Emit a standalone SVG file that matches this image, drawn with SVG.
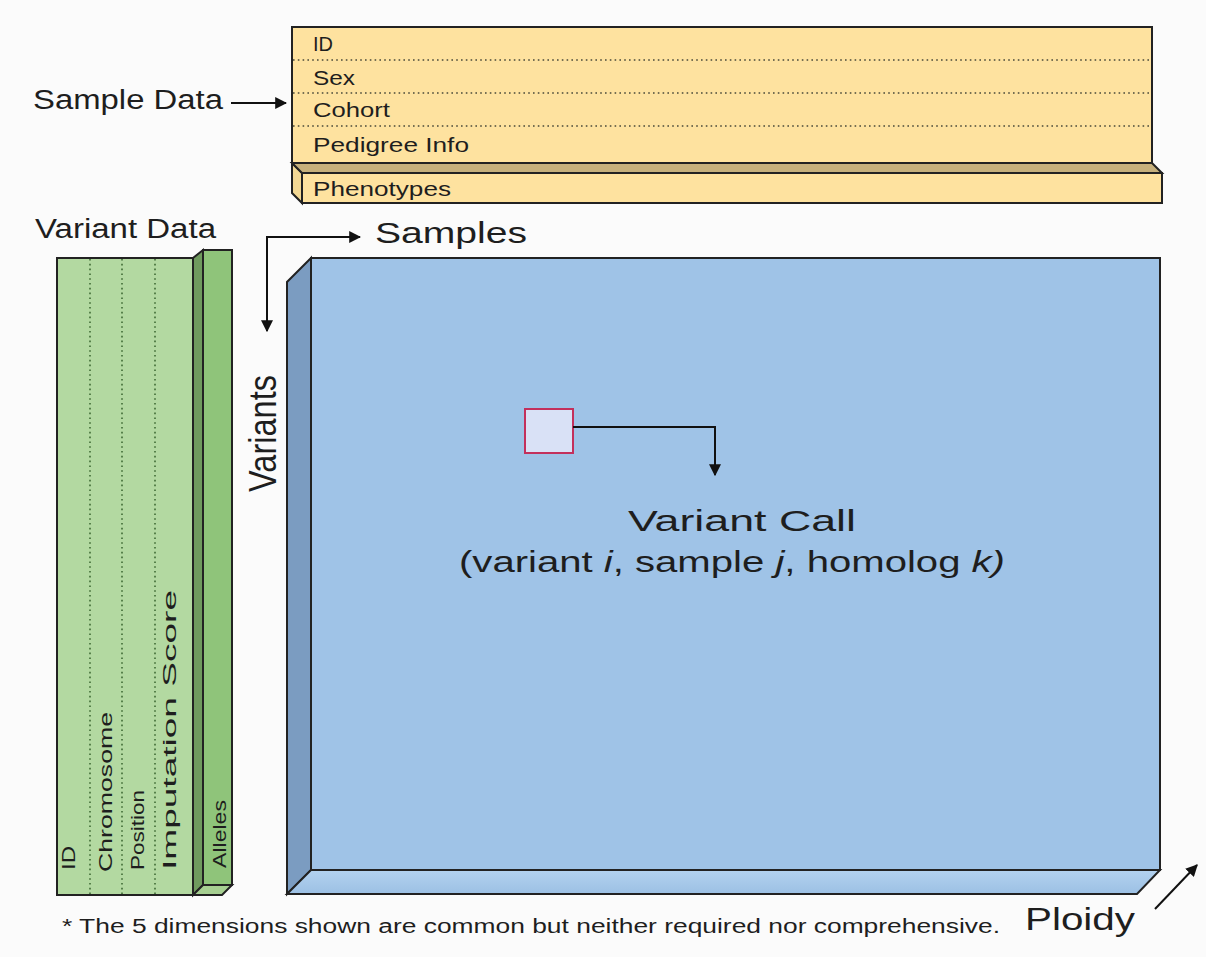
<svg xmlns="http://www.w3.org/2000/svg" width="1206" height="957" viewBox="0 0 1206 957">
  <style>
    .txt { font-family: "Liberation Sans", Arial, sans-serif; fill: #1e1e1e; }
    .edge { stroke: #222; stroke-width: 2; stroke-linejoin: miter; }
    .dots { stroke: #4a4a3a; stroke-width: 1.6; stroke-dasharray: 1.6 3.2; fill: none; }
    .gdots { stroke: #3f6a35; stroke-width: 1.6; stroke-dasharray: 1.6 3.2; fill: none; }
    .conn { stroke: #111; stroke-width: 2; fill: none; }
    .yellow { fill: #fee29f; }
    .green { fill: #b3d9a1; }
    .green-dark { fill: #8fc47a; }
    .blue { fill: #9fc3e7; }
  </style>
  <defs>
    <marker id="arrow" viewBox="0 0 10 10" refX="9" refY="5" markerWidth="6" markerHeight="6" markerUnits="strokeWidth" orient="auto">
      <path d="M0,0 L10,5 L0,10 Z" fill="#111"/>
    </marker>
    <linearGradient id="blueBottom" x1="0" y1="0" x2="0" y2="1">
      <stop offset="0" stop-color="#b3d2f0"/>
      <stop offset="1" stop-color="#9cc0e4"/>
    </linearGradient>
  </defs>

  <rect width="1206" height="957" fill="#fbfbfb"/>

  <!-- Sample data slab -->
  <g id="sample-data">
    <polygon points="292,163 302,173 302,203 292,193" fill="#f3d894" class="edge"/>
    <polygon points="292,163 1152,163 1162,173 302,173" fill="#c6b07c" class="edge"/>
    <rect x="302" y="173" width="860" height="30" class="yellow edge"/>
    <rect x="292" y="27" width="860" height="136" class="yellow edge"/>
    <line x1="293" y1="60" x2="1151" y2="60" class="dots"/>
    <line x1="293" y1="93" x2="1151" y2="93" class="dots"/>
    <line x1="293" y1="126" x2="1151" y2="126" class="dots"/>
    <text x="313" y="51" class="txt" font-size="21" textLength="20" lengthAdjust="spacingAndGlyphs">ID</text>
    <text x="313" y="85" class="txt" font-size="21" textLength="42" lengthAdjust="spacingAndGlyphs">Sex</text>
    <text x="313" y="117" class="txt" font-size="21" textLength="77" lengthAdjust="spacingAndGlyphs">Cohort</text>
    <text x="313" y="152" class="txt" font-size="21" textLength="156" lengthAdjust="spacingAndGlyphs">Pedigree Info</text>
    <text x="313" y="196" class="txt" font-size="21" textLength="138" lengthAdjust="spacingAndGlyphs">Phenotypes</text>
  </g>

  <!-- Variant data slab -->
  <g id="variant-data">
    <polygon points="193,258 203,250 203,885 193,895" fill="#6f9a5e" class="edge"/>
    <polygon points="193,895 203,885 232,885 222,895" fill="#a6cf91" class="edge"/>
    <rect x="203" y="250" width="29" height="635" class="green-dark edge"/>
    <rect x="57" y="258" width="136" height="637" class="green edge"/>
    <line x1="90" y1="259" x2="90" y2="894" class="gdots"/>
    <line x1="122" y1="259" x2="122" y2="894" class="gdots"/>
    <line x1="155" y1="259" x2="155" y2="894" class="gdots"/>
    <text transform="translate(75,870) rotate(-90)" class="txt" font-size="19" textLength="24" lengthAdjust="spacingAndGlyphs">ID</text>
    <text transform="translate(112,872) rotate(-90)" class="txt" font-size="19" textLength="160" lengthAdjust="spacingAndGlyphs">Chromosome</text>
    <text transform="translate(144,870) rotate(-90)" class="txt" font-size="19" textLength="80" lengthAdjust="spacingAndGlyphs">Position</text>
    <text transform="translate(176,870) rotate(-90)" class="txt" font-size="19" textLength="280" lengthAdjust="spacingAndGlyphs">Imputation Score</text>
    <text transform="translate(226,868) rotate(-90)" class="txt" font-size="18" textLength="68" lengthAdjust="spacingAndGlyphs">Alleles</text>
  </g>

  <!-- Variant call matrix -->
  <g id="variant-matrix">
    <polygon points="311,258 287,282 287,894 311,870" fill="#7b9cc1" class="edge"/>
    <polygon points="311,870 1160,870 1137,894 287,894" fill="url(#blueBottom)" class="edge"/>
    <rect x="311" y="258" width="849" height="612" class="blue edge"/>
  </g>

  <!-- Single call cell -->
  <g id="variant-call">
    <rect x="525" y="409" width="48" height="44" fill="#d9e1f6" stroke="#c3305c" stroke-width="2"/>
    <text x="742" y="531" class="txt" font-size="29" text-anchor="middle" textLength="228" lengthAdjust="spacingAndGlyphs">Variant Call</text>
    <text x="459" y="572" class="txt" font-size="29" textLength="546" lengthAdjust="spacingAndGlyphs">(variant <tspan font-style="italic">i</tspan>, sample <tspan font-style="italic">j</tspan>, homolog <tspan font-style="italic">k)</tspan></text>
  </g>

  <!-- Axis and section labels -->
  <g id="labels">
    <text x="33" y="109" class="txt" font-size="27" textLength="190" lengthAdjust="spacingAndGlyphs">Sample Data</text>
    <text x="35" y="238" class="txt" font-size="27" textLength="181" lengthAdjust="spacingAndGlyphs">Variant Data</text>
    <text x="375" y="243" class="txt" font-size="30" textLength="152" lengthAdjust="spacingAndGlyphs">Samples</text>
    <text transform="translate(276,492) rotate(-90)" class="txt" font-size="38" textLength="117" lengthAdjust="spacingAndGlyphs">Variants</text>
    <text x="1025" y="930" class="txt" font-size="31" textLength="110" lengthAdjust="spacingAndGlyphs">Ploidy</text>
    <text x="62" y="933" class="txt" font-size="20" textLength="938" lengthAdjust="spacingAndGlyphs">* The 5 dimensions shown are common but neither required nor comprehensive.</text>
  </g>

  <!-- Connectors -->
  <g id="connectors">
    <line x1="231" y1="103" x2="286" y2="103" class="conn" marker-end="url(#arrow)"/>
    <polyline points="267,330 267,237 360,237" class="conn" marker-end="url(#arrow)"/>
    <line x1="267" y1="240" x2="267" y2="331" class="conn" marker-end="url(#arrow)"/>
    <polyline points="573,427 715,427 715,475" class="conn" marker-end="url(#arrow)"/>
    <line x1="1155" y1="909" x2="1197" y2="865" class="conn" marker-end="url(#arrow)"/>
  </g>
</svg>
